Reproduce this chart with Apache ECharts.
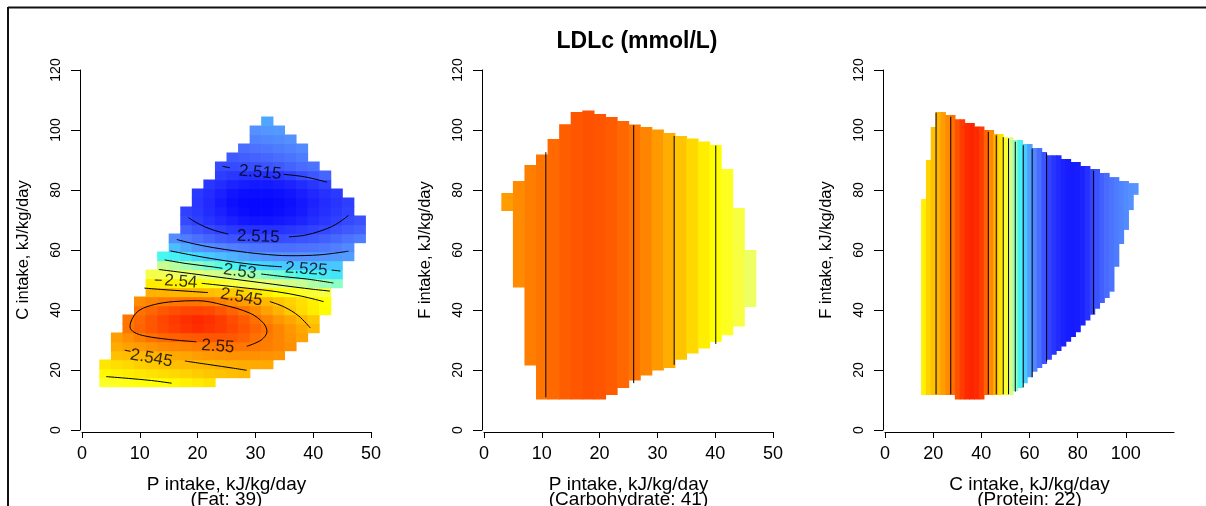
<!DOCTYPE html>
<html><head><meta charset="utf-8">
<script src="https://cdn.jsdelivr.net/npm/echarts@6/dist/echarts.min.js"></script>
<style>html,body{margin:0;padding:0;background:#fff}#c{width:1206px;height:506px}</style>
</head><body><div id="c"></div><script>
// ---------- DATA ----------
const chartTitle = 'LDLc (mmol/L)';
const xNames = ['P intake, kJ/kg/day\n(Fat: 39)', 'P intake, kJ/kg/day\n(Carbohydrate: 41)', 'C intake, kJ/kg/day\n(Protein: 22)'];
const yNames = ['C intake, kJ/kg/day', 'F intake, kJ/kg/day', 'F intake, kJ/kg/day'];
const xMax = [50, 50, 120];
const yMax = 120;

// Panel 1: rows [y, first x, values at x, x+2, ...]
const p1Rows = [
 [16,4,[2.5385,2.5388,2.5392,2.5395,2.5398,2.5401,2.5405,2.5410,2.5415,2.5420]],
 [19,4,[2.5405,2.5410,2.5413,2.5417,2.5420,2.5424,2.5428,2.5432,2.5436,2.5440,2.5443,2.5446,2.5449]],
 [22,4,[2.5418,2.5423,2.5428,2.5433,2.5437,2.5441,2.5445,2.5448,2.5449,2.5451,2.5454,2.5457,2.5459,2.5461,2.5462]],
 [25,6,[2.5444,2.5447,2.5449,2.5452,2.5457,2.5462,2.5466,2.5470,2.5474,2.5477,2.5479,2.5480,2.5480,2.5479,2.5477]],
 [28,6,[2.5460,2.5467,2.5473,2.5478,2.5483,2.5487,2.5490,2.5493,2.5496,2.5498,2.5499,2.5498,2.5496,2.5493,2.5488,2.5482]],
 [31,6,[2.5470,2.5482,2.5492,2.5502,2.5506,2.5509,2.5511,2.5512,2.5513,2.5513,2.5512,2.5509,2.5502,2.5495,2.5488,2.5478,2.5468]],
 [34,8,[2.5499,2.5507,2.5513,2.5519,2.5524,2.5528,2.5531,2.5528,2.5525,2.5520,2.5514,2.5507,2.5500,2.5488,2.5475,2.5462,2.5448]],
 [37,8,[2.5499,2.5506,2.5513,2.5520,2.5526,2.5530,2.5533,2.5530,2.5525,2.5518,2.5511,2.5502,2.5489,2.5476,2.5463,2.5450,2.5438]],
 [40,10,[2.5500,2.5506,2.5512,2.5517,2.5520,2.5521,2.5519,2.5513,2.5507,2.5500,2.5484,2.5468,2.5452,2.5438,2.5425,2.5413,2.5402]],
 [43,10,[2.5484,2.5490,2.5495,2.5498,2.5500,2.5500,2.5497,2.5491,2.5483,2.5472,2.5462,2.5451,2.5441,2.5432,2.5422,2.5411,2.5400]],
 [46,12,[2.5455,2.5454,2.5453,2.5452,2.5450,2.5447,2.5443,2.5438,2.5431,2.5422,2.5411,2.5400,2.5393,2.5386,2.5379,2.5372]],
 [49,12,[2.5413,2.5412,2.5410,2.5406,2.5402,2.5393,2.5385,2.5376,2.5367,2.5358,2.5349,2.5341,2.5332,2.5324,2.5315,2.5306,2.5298]],
 [52,12,[2.5371,2.5367,2.5361,2.5355,2.5348,2.5339,2.5330,2.5322,2.5313,2.5304,2.5296,2.5289,2.5282,2.5275,2.5270,2.5264,2.5258]],
 [55,14,[2.5327,2.5318,2.5309,2.5301,2.5291,2.5281,2.5272,2.5262,2.5253,2.5246,2.5241,2.5238,2.5236,2.5236,2.5237,2.5239]],
 [58,14,[2.5275,2.5270,2.5262,2.5250,2.5240,2.5232,2.5224,2.5216,2.5209,2.5205,2.5202,2.5201,2.5201,2.5202,2.5204,2.5206,2.5208]],
 [61,16,[2.5232,2.5218,2.5206,2.5199,2.5194,2.5189,2.5185,2.5181,2.5179,2.5178,2.5178,2.5179,2.5181,2.5184,2.5189,2.5195]],
 [64,16,[2.5198,2.5187,2.5178,2.5170,2.5163,2.5158,2.5154,2.5152,2.5152,2.5153,2.5155,2.5158,2.5161,2.5166,2.5172,2.5180,2.5186]],
 [67,18,[2.5166,2.5158,2.5151,2.5144,2.5138,2.5134,2.5132,2.5132,2.5133,2.5136,2.5140,2.5145,2.5150,2.5156,2.5162,2.5167]],
 [70,18,[2.5151,2.5143,2.5134,2.5126,2.5120,2.5115,2.5113,2.5113,2.5115,2.5118,2.5123,2.5130,2.5137,2.5144,2.5151,2.5156]],
 [73,18,[2.5145,2.5138,2.5128,2.5120,2.5113,2.5108,2.5106,2.5106,2.5108,2.5112,2.5117,2.5124,2.5131,2.5138,2.5145]],
 [76,20,[2.5136,2.5126,2.5117,2.5110,2.5106,2.5105,2.5105,2.5107,2.5110,2.5115,2.5121,2.5128,2.5135,2.5142]],
 [79,20,[2.5138,2.5129,2.5120,2.5113,2.5109,2.5108,2.5108,2.5110,2.5114,2.5119,2.5125,2.5132,2.5139]],
 [82,22,[2.5137,2.5129,2.5122,2.5118,2.5116,2.5116,2.5118,2.5122,2.5128,2.5136,2.5145]],
 [85,24,[2.5142,2.5137,2.5133,2.5131,2.5132,2.5136,2.5143,2.5152,2.5160,2.5170]],
 [88,24,[2.5152,2.5152,2.5153,2.5155,2.5158,2.5162,2.5168,2.5174,2.5180]],
 [91,26,[2.5163,2.5165,2.5168,2.5171,2.5175,2.5180,2.5186]],
 [94,28,[2.5176,2.5179,2.5182,2.5186,2.5190,2.5195]],
 [97,30,[2.5190,2.5193,2.5196,2.5200]],
 [100,30,[2.5201,2.5204,2.5207]],
 [103,32,[2.5215]]
];

// Panel 1 contour segments and labels
const p1Contours = [
 [[24.3,87.9],[25.6,87.4]],
 [[34.9,85.2],[38.5,84.4],[42.4,82.6]],
 [[18.4,70.8],[20.3,68.6],[22.5,66.8],[25.3,65.3]],
 [[35.8,64.4],[38.5,64.9],[41.2,66.3],[43.8,68.4],[46.1,71.5]],
 [[16.4,63.5],[19.5,62],[22.7,60.8],[26.5,59.7],[30.8,58.7],[36,58.1],[41.2,58.4],[46.1,59.6]],
 [[15.3,59.7],[19,58.3],[22.5,57.1],[27,55.8],[31,54.9],[34.6,54.4]],
 [[43.2,53.3],[44.7,53]],
 [[14.3,56.7],[18,55.5],[22.5,54.4],[24.3,53.9]],
 [[31,52],[35,51.1],[39,50.3],[43.5,49]],
 [[13.3,53.5],[17,52.6],[21,51.6],[25,50.6],[29,49.6],[33,48.6],[37,47.6],[40,46.9],[42.9,46.3]],
 [[12.6,50],[13.8,49.9]],
 [[20.7,48.9],[27,47.6],[33.7,46.1],[38,44.6],[41.8,42.8]],
 [[10.8,47.3],[14,46.8],[18,46.3],[21.8,45.8]],
 [[32.5,42.8],[35,41],[37.5,38],[39.5,34]],
 [[19.8,29.4],[15,30.2],[11,31.3],[9,32.6],[8.3,34.4],[8.8,37.5],[10,40],[12.5,41.8],[15.8,42.8],[20,43.1],[24.4,41.7],[29.1,38.9],[31.4,35.6],[32,32.8],[31,30],[28.5,27.9]],
 [[7.4,26.6],[8.4,26.2]],
 [[17.8,23],[22,21.8],[26.2,20.6],[28.5,19.9]],
 [[4.2,17.8],[8,17.2],[12,16.5],[15.5,15.6]]
];
const p1LabelText = ['2.515','2.515','2.525','2.53','2.54','2.545','2.55','2.545'];
const p1LabelPos = [[30.8,85.8],[30.5,64.4],[38.8,53.6],[27.3,52.8],[17.1,49.4],[27.6,44.2],[23.5,27.8],[12,23.9]];
const p1LabelTilt = [-5,-2,-4,-8,-4,-10,-4,-10];

// Panel 2: columns
const p2X   = [4,6,8,10,12,14,16,18,20,22,24,26,28,30,32,34,36,38,40,42,44,46];
const p2Lo  = [73,47.5,21.5,10.2,10.2,10.2,10.2,10.2,10.2,11.7,14,16.5,18.2,19.8,20.7,23.4,25.5,27.2,29.3,31.6,34.5,41];
const p2Hi  = [79,83,88.3,91.8,97,101.9,106,106.5,105.3,104.3,103,101.8,101,100.2,99,98,97.2,96.2,95,87,74,60];
const p2Val = [2.5472,2.5483,2.5493,2.5499,2.5505,2.5510,2.5513,2.5515,2.5514,2.5511,2.5506,2.5500,2.5488,2.5474,2.5458,2.5442,2.5428,2.5412,2.5400,2.5388,2.5375,2.5358];
const p2LineX = [10.7, 25.9, 32.9, 40.1];
const p2LineTop = [92.6, 101.6, 98.0, 94.8];
const p2LineBot = [10.9, 15.6, 21.7, 28.7];

// Panel 3: columns
const p3X = [16,18,20,22,24,26,28,30,32,34,36,38,40,42,44,46,48,50,52,54,56,58,60,62,64,66,68,70,72,74,76,78,80,82,84,86,88,90,92,94,96,98,100,102,104];
const p3Lo = [11.7,11.7,11.7,11.7,11.7,11.7,11.7,10.2,10.2,10.2,10.2,10.2,10.2,11.7,11.7,11.7,11.7,11.7,11.7,13,14,15.6,17.6,19.4,20.7,22,23.4,25.1,26.3,27.8,29.4,31,32.6,34.8,36.5,38.4,40.4,42.3,44,46.1,54.4,62,66.7,73.3,78.4];
const p3Hi = [77,90,101,106,106,105,105,103.6,103.6,102.3,102.3,101.2,101.2,100,100,98.7,98.7,97.6,97.6,96.7,96.7,95.3,95.3,94,94,92.7,91.6,91.6,91.6,90.3,90.3,89.3,89.3,88,88,87,87,85.7,85.7,84.3,84.3,83,83,82.3,82.3];
const p3Val = [2.5410,2.5432,2.5444,2.5455,2.5470,2.5485,2.5502,2.5515,2.5525,2.5532,2.5535,2.5533,2.5525,2.5508,2.5485,2.5453,2.5420,2.5382,2.5338,2.5302,2.5270,2.5242,2.5212,2.5193,2.5175,2.5158,2.5146,2.5135,2.5127,2.5121,2.5118,2.5117,2.5118,2.5122,2.5132,2.5146,2.5157,2.5166,2.5174,2.5180,2.5186,2.5191,2.5196,2.5200,2.5203];
const p3LineX = [21.2, 27.3, 42.9, 46.2, 49.1, 51.3, 54.1, 57.4, 61.1, 67.1, 86.6];
const p3LineTop = [105.8, 104.4, 99.4, 98.2, 97.6, 97.2, 96.1, 94.9, 93.8, 92.2, 86.4];
const p3LineBot = [11.9, 11.9, 11.9, 11.9, 11.9, 11.9, 12.8, 14.2, 17.6, 22.8, 38.7];

// Colour scale
const scaleMin = 2.51, scaleMax = 2.555;
const scaleColors = ['#0000ff','#2028ff','#3448ff','#4a6cff','#5490ff','#4cb4ff','#44d8ff','#48f8f0','#90ffc0','#c8ff90','#eaff70','#f8ff40','#ffff00','#ffdc00','#ffb800','#ff9800','#ff7400','#ff3c00','#ff0000'];

// ---------- BUILD ----------
const FONT = 'Liberation Sans, Arial, Helvetica, sans-serif';
const gridLefts = [82, 484, 885];
const P1W = 2, P1H = 3, COLW = 2;

const p1Data = [];
p1Rows.forEach(r => r[2].forEach((v, i) => p1Data.push([r[1] + P1W * i, r[0], v])));
const p2Data = p2X.map((x, i) => [x, p2Lo[i], p2Val[i], p2Hi[i]]);
const p3Data = p3X.map((x, i) => [x, p3Lo[i], p3Val[i], p3Hi[i]]);

function cellRender(params, api) {
  const x = api.value(0), y = api.value(1);
  const a = api.coord([x - P1W / 2, y + P1H / 2]);
  const b = api.coord([x + P1W / 2, y - P1H / 2]);
  return { type: 'rect', shape: { x: a[0], y: a[1], width: b[0] - a[0] + 0.7, height: b[1] - a[1] + 0.7 },
           style: { fill: api.visual('color') } };
}
function colRender(params, api) {
  const x = api.value(0), lo = api.value(1), hi = api.value(3);
  const a = api.coord([x - COLW / 2, hi]);
  const b = api.coord([x + COLW / 2, lo]);
  return { type: 'rect', shape: { x: a[0], y: a[1], width: b[0] - a[0] + 0.7, height: b[1] - a[1] },
           style: { fill: api.visual('color') } };
}

const grids = gridLefts.map(l => ({ left: l, top: 70, width: 289, height: 360, containLabel: false, outerBoundsMode: 'none' }));
const xAxes = [0, 1, 2].map(i => ({
  gridIndex: i, type: 'value', min: 0, max: xMax[i], interval: i === 2 ? 20 : 10, offset: 2,
  axisLine: { show: true, onZero: false, lineStyle: { color: '#000', width: 1 } },
  axisTick: { show: true, length: 6, lineStyle: { color: '#000' } },
  axisLabel: { color: '#000', fontSize: 18, fontFamily: FONT, margin: 13, showMaxLabel: i !== 2 },
  splitLine: { show: false },
  name: xNames[i], nameLocation: 'middle', nameGap: 45,
  nameTextStyle: { color: '#000', fontSize: 19, fontFamily: FONT, lineHeight: 15 }
}));
const yAxes = [0, 1, 2].map(i => ({
  gridIndex: i, type: 'value', min: 0, max: yMax, interval: 20, offset: 2,
  axisLine: { show: true, onZero: false, lineStyle: { color: '#000', width: 1 } },
  axisTick: { show: true, length: 9, lineStyle: { color: '#000' } },
  axisLabel: { color: '#000', fontSize: 14, fontFamily: FONT, rotate: 90, margin: 17 },
  splitLine: { show: false },
  name: yNames[i], nameLocation: 'middle', nameGap: 48, nameRotate: 90,
  nameTextStyle: { color: '#000', fontSize: 16.5, fontFamily: FONT }
}));

const series = [
  { type: 'custom', xAxisIndex: 0, yAxisIndex: 0, renderItem: cellRender, data: p1Data, z: 2, silent: true },
  { type: 'custom', xAxisIndex: 1, yAxisIndex: 1, renderItem: colRender, data: p2Data, z: 2, silent: true },
  { type: 'custom', xAxisIndex: 2, yAxisIndex: 2, renderItem: colRender, data: p3Data, z: 2, silent: true }
];
const lineStyle = { color: '#000', width: 1 };
p1Contours.forEach(seg => series.push({
  type: 'line', xAxisIndex: 0, yAxisIndex: 0, data: seg, smooth: 0.35, symbol: 'none',
  lineStyle, z: 5, silent: true
}));
series.push({
  type: 'scatter', xAxisIndex: 0, yAxisIndex: 0, symbolSize: 1, itemStyle: { color: 'rgba(0,0,0,0)' }, z: 6, silent: true,
  data: p1LabelPos.map((p, i) => ({ value: p, name: p1LabelText[i], label: { rotate: p1LabelTilt[i] } })),
  label: { show: true, position: 'inside', formatter: '{b}', color: '#000', fontSize: 17, fontFamily: FONT }
});
p2LineX.forEach((x, i) => series.push({
  type: 'line', xAxisIndex: 1, yAxisIndex: 1, data: [[x, p2LineBot[i]], [x, p2LineTop[i]]],
  symbol: 'none', lineStyle, z: 5, silent: true
}));
p3LineX.forEach((x, i) => series.push({
  type: 'line', xAxisIndex: 2, yAxisIndex: 2, data: [[x, p3LineBot[i]], [x, p3LineTop[i]]],
  symbol: 'none', lineStyle, z: 5, silent: true
}));

const chart = echarts.init(document.getElementById('c'), null, { renderer: 'canvas' });
chart.setOption({
  animation: false,
  backgroundColor: '#fff',
  title: { text: chartTitle, left: 632, top: 25, textAlign: 'center',
           textStyle: { fontSize: 23, fontWeight: 'bold', color: '#000', fontFamily: FONT } },
  grid: grids, xAxis: xAxes, yAxis: yAxes,
  visualMap: { type: 'continuous', show: false, dimension: 2, seriesIndex: [0, 1, 2],
               min: scaleMin, max: scaleMax, inRange: { color: scaleColors } },
  graphic: [
    { type: 'line', shape: { x1: 8, y1: 7.5, x2: 1206, y2: 7.5 }, style: { stroke: '#111', lineWidth: 2 } },
    { type: 'line', shape: { x1: 8, y1: 7, x2: 8, y2: 506 }, style: { stroke: '#111', lineWidth: 2 } }
  ],
  series
});
</script></body></html>
